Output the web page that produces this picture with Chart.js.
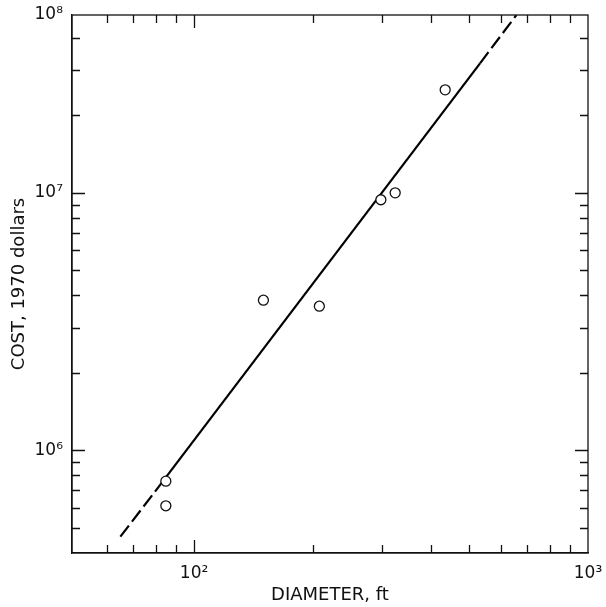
<!DOCTYPE html>
<html><head><meta charset="utf-8">
<script src="https://cdn.jsdelivr.net/npm/chart.js@4/dist/chart.umd.min.js"></script>
<style>html,body{margin:0;padding:0;background:#fff}</style>
</head><body>
<canvas id="c" width="606" height="607"></canvas>
<script>
const diameterFt = [84.8, 84.8, 150, 208, 298, 324, 434];
const cost1970 = [7.6e5, 6.1e5, 3.83e6, 3.63e6, 9.4e6, 1.0e7, 2.51e7];
const fitDiameterFt = [65, 79.6, 532, 658];
const fitCost = [4.63e5, 6.92e5, 3.18e7, 4.9e7];
const xRange = [49, 1000];
const yRange = [4.0e5, 4.9e7];
const xTickValues = [100, 1000];
const xTickLabels = ['10²', '10³'];
const yTickValues = [1e6, 1e7, 4.9e7];
const yTickLabels = ['10⁶', '10⁷', '10⁸'];
const xMinorTicks = [60, 70, 80, 90, 200, 300, 400, 500, 600, 700, 800, 900];
const yMinorTicks = [5e5, 6e5, 7e5, 8e5, 9e5, 2e6, 3e6, 4e6, 5e6, 6e6, 7e6, 8e6, 9e6, 2e7, 3e7, 4e7];
const xTitle = 'DIAMETER, ft';
const yTitle = 'COST, 1970 dollars';

const FONT = '"DejaVu Sans", sans-serif';

const bgPlugin = {
  id: 'bg',
  beforeDraw(chart) {
    const ctx = chart.ctx;
    ctx.save();
    ctx.fillStyle = '#fff';
    ctx.fillRect(0, 0, chart.width, chart.height);
    ctx.restore();
  }
};

const framePlugin = {
  id: 'frame',
  afterDraw(chart) {
    const {ctx, chartArea: a, scales: {x, y}} = chart;
    ctx.save();
    ctx.strokeStyle = '#111';
    ctx.lineWidth = 1.3;
    ctx.strokeRect(a.left, a.top, a.right - a.left, a.bottom - a.top);
    const drawX = (v, len) => {
      const px = Math.round(x.getPixelForValue(v)) + 0.5;
      ctx.beginPath();
      ctx.moveTo(px, a.bottom); ctx.lineTo(px, a.bottom - len);
      ctx.moveTo(px, a.top); ctx.lineTo(px, a.top + len);
      ctx.stroke();
    };
    const drawY = (v, len) => {
      const py = Math.round(y.getPixelForValue(v)) + 0.5;
      ctx.beginPath();
      ctx.moveTo(a.left, py); ctx.lineTo(a.left + len, py);
      ctx.moveTo(a.right, py); ctx.lineTo(a.right - len, py);
      ctx.stroke();
    };
    xMinorTicks.forEach(v => drawX(v, 8));
    drawX(xTickValues[0], 13);
    yMinorTicks.forEach(v => drawY(v, 8));
    drawY(yTickValues[0], 13);
    drawY(yTickValues[1], 13);
    ctx.restore();
  }
};

new Chart(document.getElementById('c'), {
  type: 'scatter',
  data: {
    datasets: [
      {
        type: 'line',
        data: fitDiameterFt.map((d, i) => ({x: d, y: fitCost[i]})),
        borderColor: '#000',
        borderWidth: 2.2,
        pointRadius: 0,
        fill: false,
        tension: 0,
        order: 2,
        segment: {
          borderDash: ctx => ctx.p0DataIndex === 1 ? [] : [14, 5]
        }
      },
      {
        data: diameterFt.map((d, i) => ({x: d, y: cost1970[i]})),
        pointStyle: 'circle',
        pointRadius: 5,
        pointBorderWidth: 1.3,
        borderColor: '#111',
        backgroundColor: '#fff',
        pointBackgroundColor: '#fff',
        order: 1
      }
    ]
  },
  options: {
    responsive: false,
    animation: false,
    devicePixelRatio: 1,
    layout: {padding: {top: 15, right: 18, left: 0, bottom: 0}},
    plugins: {legend: {display: false}, tooltip: {enabled: false}},
    scales: {
      x: {
        type: 'logarithmic',
        position: 'bottom',
        min: xRange[0], max: xRange[1],
        afterBuildTicks: s => { s.ticks = xTickValues.map(v => ({value: v})); },
        afterFit: s => { s.height = 54; s.paddingLeft = 0; s.paddingRight = 0; },
        grid: {display: false, drawTicks: false},
        border: {display: true, color: '#111', width: 1.3},
        ticks: {
          color: '#111', padding: 10, maxRotation: 0, autoSkip: false,
          font: {family: FONT, size: 17},
          callback: (v) => { const i = xTickValues.indexOf(v); return i >= 0 ? xTickLabels[i] : ''; }
        },
        title: {display: true, text: xTitle, color: '#111', font: {family: FONT, size: 18}, padding: {top: 0, bottom: 1}}
      },
      y: {
        type: 'logarithmic',
        position: 'left',
        min: yRange[0], max: yRange[1],
        afterBuildTicks: s => { s.ticks = yTickValues.map(v => ({value: v})); },
        afterFit: s => { s.width = 72; s.paddingTop = 0; s.paddingBottom = 0; },
        grid: {display: false, drawTicks: false},
        border: {display: true, color: '#111', width: 1.3},
        ticks: {
          color: '#111', padding: 9, autoSkip: false,
          font: {family: FONT, size: 17},
          callback: (v) => { const i = yTickValues.indexOf(v); return i >= 0 ? yTickLabels[i] : ''; }
        },
        title: {display: true, text: yTitle, color: '#111', font: {family: FONT, size: 18}, padding: {top: 9, bottom: 0}}
      }
    }
  },
  plugins: [bgPlugin, framePlugin]
});
</script>
</body></html>
